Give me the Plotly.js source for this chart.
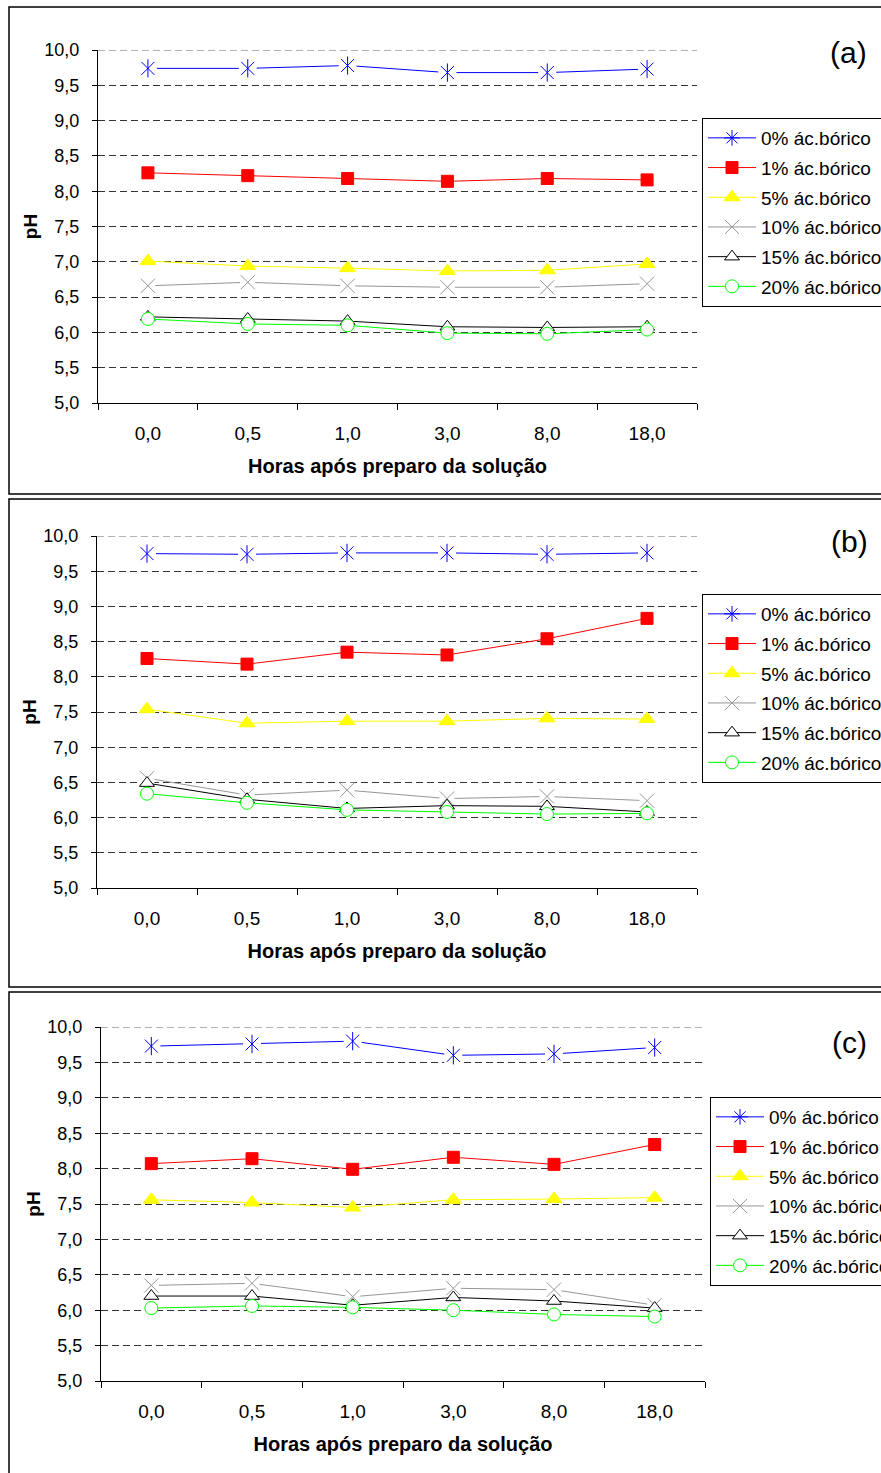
<!DOCTYPE html>
<html>
<head>
<meta charset="utf-8">
<script src="https://cdn.plot.ly/plotly-3.0.1.min.js"></script>
<style>
html,body{margin:0;padding:0;overflow:hidden;width:881px;height:1473px;background:#fff;}
#chart{width:920px;height:1473px;}
</style>
</head>
<body>
<div id="chart"></div>
<script>
// ---- data ----
const hours = ["0,0", "0,5", "1,0", "3,0", "8,0", "18,0"];
const seriesNames = ["0% ác.bórico", "1% ác.bórico", "5% ác.bórico", "10% ác.bórico", "15% ác.bórico", "20% ác.bórico"];
const panelLabels = ["(a)", "(b)", "(c)"];
const xTitle = "Horas após preparo da solução";
const yTitle = "pH";

// panel (a)
const a0  = [9.74, 9.74, 9.78, 9.68, 9.68, 9.73];
const a1  = [8.26, 8.22, 8.18, 8.14, 8.18, 8.16];
const a5  = [7.01, 6.94, 6.91, 6.87, 6.88, 6.97];
const a10 = [6.66, 6.71, 6.66, 6.64, 6.64, 6.69];
const a15 = [6.22, 6.19, 6.16, 6.08, 6.07, 6.08];
const a20 = [6.19, 6.12, 6.10, 5.99, 5.98, 6.04];
// panel (b)
const b0  = [9.75, 9.74, 9.76, 9.76, 9.74, 9.76];
const b1  = [8.26, 8.18, 8.35, 8.31, 8.54, 8.83];
const b5  = [7.54, 7.34, 7.37, 7.37, 7.41, 7.40];
const b10 = [6.56, 6.32, 6.39, 6.27, 6.30, 6.24];
const b15 = [6.49, 6.26, 6.13, 6.17, 6.16, 6.08];
const b20 = [6.34, 6.21, 6.11, 6.08, 6.05, 6.06];
// panel (c)
const c0  = [9.73, 9.76, 9.80, 9.60, 9.62, 9.71];
const c1  = [8.07, 8.14, 7.99, 8.16, 8.06, 8.34];
const c5  = [7.56, 7.52, 7.45, 7.56, 7.57, 7.59];
const c10 = [6.35, 6.38, 6.19, 6.31, 6.29, 6.07];
const c15 = [6.20, 6.20, 6.07, 6.18, 6.13, 6.03];
const c20 = [6.03, 6.06, 6.04, 6.00, 5.94, 5.91];

const panels = [
  [a0, a1, a5, a10, a15, a20],
  [b0, b1, b5, b10, b15, b20],
  [c0, c1, c5, c10, c15, c20]
];

// ---- layout geometry (pixels) ----
const W = 920, H = 1473;
const FONT = "Liberation Sans, Arial, sans-serif";
const plotBoxes = [
  {x0: 98,  x1: 697, y0: 50,   y1: 403},
  {x0: 97,  x1: 697, y0: 536,  y1: 888},
  {x0: 101, x1: 705, y0: 1027, y1: 1381}
];
const legendPos = [{x: 702, y: 118}, {x: 702, y: 594}, {x: 710, y: 1097}];
const labelPos = [{x: 848, y: 53}, {x: 849, y: 541}, {x: 849, y: 1042}];
const frames = [{y0: 7, y1: 494}, {y0: 499, y1: 987}, {y0: 992, y1: 1490}];

// ---- series styles ----
const styles = [
  {color: "#0000FF", legendSym: "asterisk-open", size: 13, gap: 18, overlay: ["x-thin-open", "line-ns-open"]},
  {color: "#FF0000", legendSym: "square", size: 12},
  {color: "#FFFF00", legendSym: "triangle-up", size: 14},
  {color: "#969696", legendSym: "x-thin-open", size: 14, gap: 15, overlay: ["x-thin-open"]},
  {color: "#000000", legendSym: "triangle-up", size: 13, fill: "#FFFFFF"},
  {color: "#00FF00", legendSym: "circle", size: 13, fill: "#FFFFFF"}
];

const traces = [];
panels.forEach((series, p) => {
  const sfx = p === 0 ? "" : String(p + 1);
  const xa = "x" + sfx, ya = "y" + sfx;
  const lg = "legend" + sfx;
  series.forEach((vals, s) => {
    const st = styles[s];
    const grp = "g" + p + "_" + s;
    const mk = st.fill
      ? {symbol: st.legendSym, size: st.size, color: st.fill, line: {color: st.color, width: 1}}
      : {symbol: st.legendSym, size: st.size, color: st.color, line: {color: st.color, width: 1}};
    traces.push({
      type: "scatter", mode: "lines+markers", x: hours, y: vals, name: seriesNames[s],
      xaxis: xa, yaxis: ya, legend: lg, legendgroup: grp,
      line: {color: st.color, width: 1}, marker: mk, hoverinfo: "skip", cliponaxis: false
    });
    if (st.gap) {
      traces.push({
        type: "scatter", mode: "markers", x: hours, y: vals, showlegend: false,
        xaxis: xa, yaxis: ya, legend: lg, legendgroup: grp,
        marker: {symbol: "square", size: st.gap, color: "#FFFFFF", line: {width: 0}},
        hoverinfo: "skip", cliponaxis: false
      });
      st.overlay.forEach(sym => {
        traces.push({
          type: "scatter", mode: "markers", x: hours, y: vals, showlegend: false,
          xaxis: xa, yaxis: ya, legend: lg, legendgroup: grp,
          marker: {symbol: sym, size: st.size, color: st.color, line: {color: st.color, width: 1}},
          hoverinfo: "skip", cliponaxis: false
        });
      });
    }
  });
});

const layout = {
  width: W, height: H,
  margin: {l: 0, r: 0, t: 0, b: 0},
  paper_bgcolor: "#FFFFFF", plot_bgcolor: "#FFFFFF",
  separators: ",.",
  font: {family: FONT, color: "#000000", size: 18},
  showlegend: true,
  shapes: [], annotations: []
};

plotBoxes.forEach((b, p) => {
  const sfx = p === 0 ? "" : String(p + 1);
  layout["xaxis" + sfx] = {
    type: "category", categoryorder: "array", categoryarray: hours,
    domain: [b.x0 / W, b.x1 / W], anchor: "y" + sfx,
    range: [-0.5, 5.5], fixedrange: true,
    showline: true, linecolor: "#000000", linewidth: 1,
    ticks: "outside", tickson: "boundaries", ticklen: 6, tickcolor: "#000000", tickwidth: 1,
    ticklabelstandoff: 13,
    showgrid: false, zeroline: false, automargin: false,
    tickfont: {family: FONT, size: 19, color: "#000000"},
    title: {text: xTitle, standoff: 16, font: {family: FONT, size: 20, color: "#000000", weight: "bold"}}
  };
  layout["yaxis" + sfx] = {
    domain: [1 - b.y1 / H, 1 - b.y0 / H], anchor: "x" + sfx,
    range: [5, 10], dtick: 0.5, tick0: 5, tickformat: ".1f", fixedrange: true,
    showline: true, linecolor: "#000000", linewidth: 1,
    ticks: "outside", ticklen: 5, tickcolor: "#000000", tickwidth: 1,
    ticklabelstandoff: 9,
    showgrid: true, gridcolor: "#333333", gridwidth: 1, griddash: "7px,4px",
    zeroline: false, automargin: false,
    tickfont: {family: FONT, size: 18, color: "#000000"},
    title: {text: yTitle, standoff: 1, font: {family: FONT, size: 19, color: "#000000", weight: "bold"}}
  };
  layout["legend" + sfx] = {
    x: legendPos[p].x / W, y: 1 - legendPos[p].y / H, xanchor: "left", yanchor: "top",
    bordercolor: "#000000", borderwidth: 1, bgcolor: "#FFFFFF",
    font: {family: FONT, size: 19, color: "#000000"},
    tracegroupgap: 2, itemwidth: 48, itemclick: false, itemdoubleclick: false
  };
  layout.annotations.push({
    xref: "paper", yref: "paper", x: labelPos[p].x / W, y: 1 - labelPos[p].y / H,
    xanchor: "center", yanchor: "middle", showarrow: false, text: panelLabels[p],
    font: {family: FONT, size: 30, color: "#000000"}
  });
  layout.shapes.push({
    type: "rect", xref: "paper", yref: "paper",
    x0: 9 / W, x1: 915 / W, y0: 1 - frames[p].y1 / H, y1: 1 - frames[p].y0 / H,
    line: {color: "#000000", width: 1.5}, fillcolor: "rgba(0,0,0,0)", layer: "below"
  });
  // dashed gridline at the top of the value axis (10,0)
  layout.shapes.push({
    type: "line", xref: "x" + sfx + " domain", yref: "y" + sfx,
    x0: 0, x1: 1, y0: 10, y1: 10,
    line: {color: "#666666", width: 1, dash: "7px,4px"}, layer: "below"
  });
});

Plotly.newPlot("chart", traces, layout, {staticPlot: true, displayModeBar: false});
</script>
</body>
</html>
